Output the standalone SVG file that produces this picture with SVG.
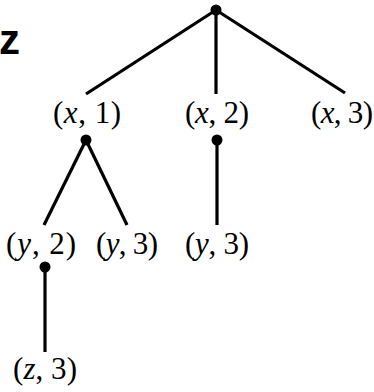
<svg xmlns="http://www.w3.org/2000/svg" width="374" height="392" viewBox="0 0 374 392">
<style>
.e{stroke:#000;stroke-width:3.2;stroke-linecap:butt;fill:none}
.d{fill:#000}
.t{font-family:"Liberation Serif","Times New Roman",serif;font-size:31px;fill:#000;text-anchor:middle}
.i{font-style:italic}
.z{font-family:"Liberation Sans",Arial,sans-serif;font-weight:bold;font-size:42px;fill:#000}
</style>
<rect width="374" height="392" fill="#fff"/>
<text class="z" x="-1" y="54">z</text>
<g id="connectors">
<line class="e" x1="216" y1="10" x2="86" y2="94"/>
<line class="e" x1="216" y1="10" x2="216" y2="94"/>
<line class="e" x1="216" y1="10" x2="345" y2="93"/>
<line class="e" x1="86" y1="140" x2="44" y2="225"/>
<line class="e" x1="86" y1="140" x2="127" y2="225"/>
<line class="e" x1="217" y1="140" x2="217" y2="225"/>
<line class="e" x1="45" y1="267" x2="45" y2="352"/>
</g>
<g id="root"><circle class="d" cx="216" cy="10" r="5.5"/></g>
<g id="x1"><text class="t" x="87" y="123" textLength="68" lengthAdjust="spacing">(<tspan class="i">x</tspan>, 1)</text><circle class="d" cx="86" cy="140" r="5.5"/></g>
<g id="x2"><text class="t" x="217" y="123" textLength="64" lengthAdjust="spacing">(<tspan class="i">x</tspan>, 2)</text><circle class="d" cx="217" cy="140" r="5.5"/></g>
<g id="x3"><text class="t" x="342" y="123" textLength="62" lengthAdjust="spacing">(<tspan class="i">x</tspan>, 3)</text></g>
<g id="y2"><text class="t" x="41" y="254" textLength="70" lengthAdjust="spacing">(<tspan class="i">y</tspan>, 2)</text><circle class="d" cx="45" cy="267" r="5.5"/></g>
<g id="y3a"><text class="t" x="127" y="254" textLength="62" lengthAdjust="spacing">(<tspan class="i">y</tspan>, 3)</text></g>
<g id="y3b"><text class="t" x="217" y="254" textLength="64" lengthAdjust="spacing">(<tspan class="i">y</tspan>, 3)</text></g>
<g id="z3"><text class="t" x="45" y="379" textLength="64" lengthAdjust="spacing">(<tspan class="i">z</tspan>, 3)</text></g>
</svg>
